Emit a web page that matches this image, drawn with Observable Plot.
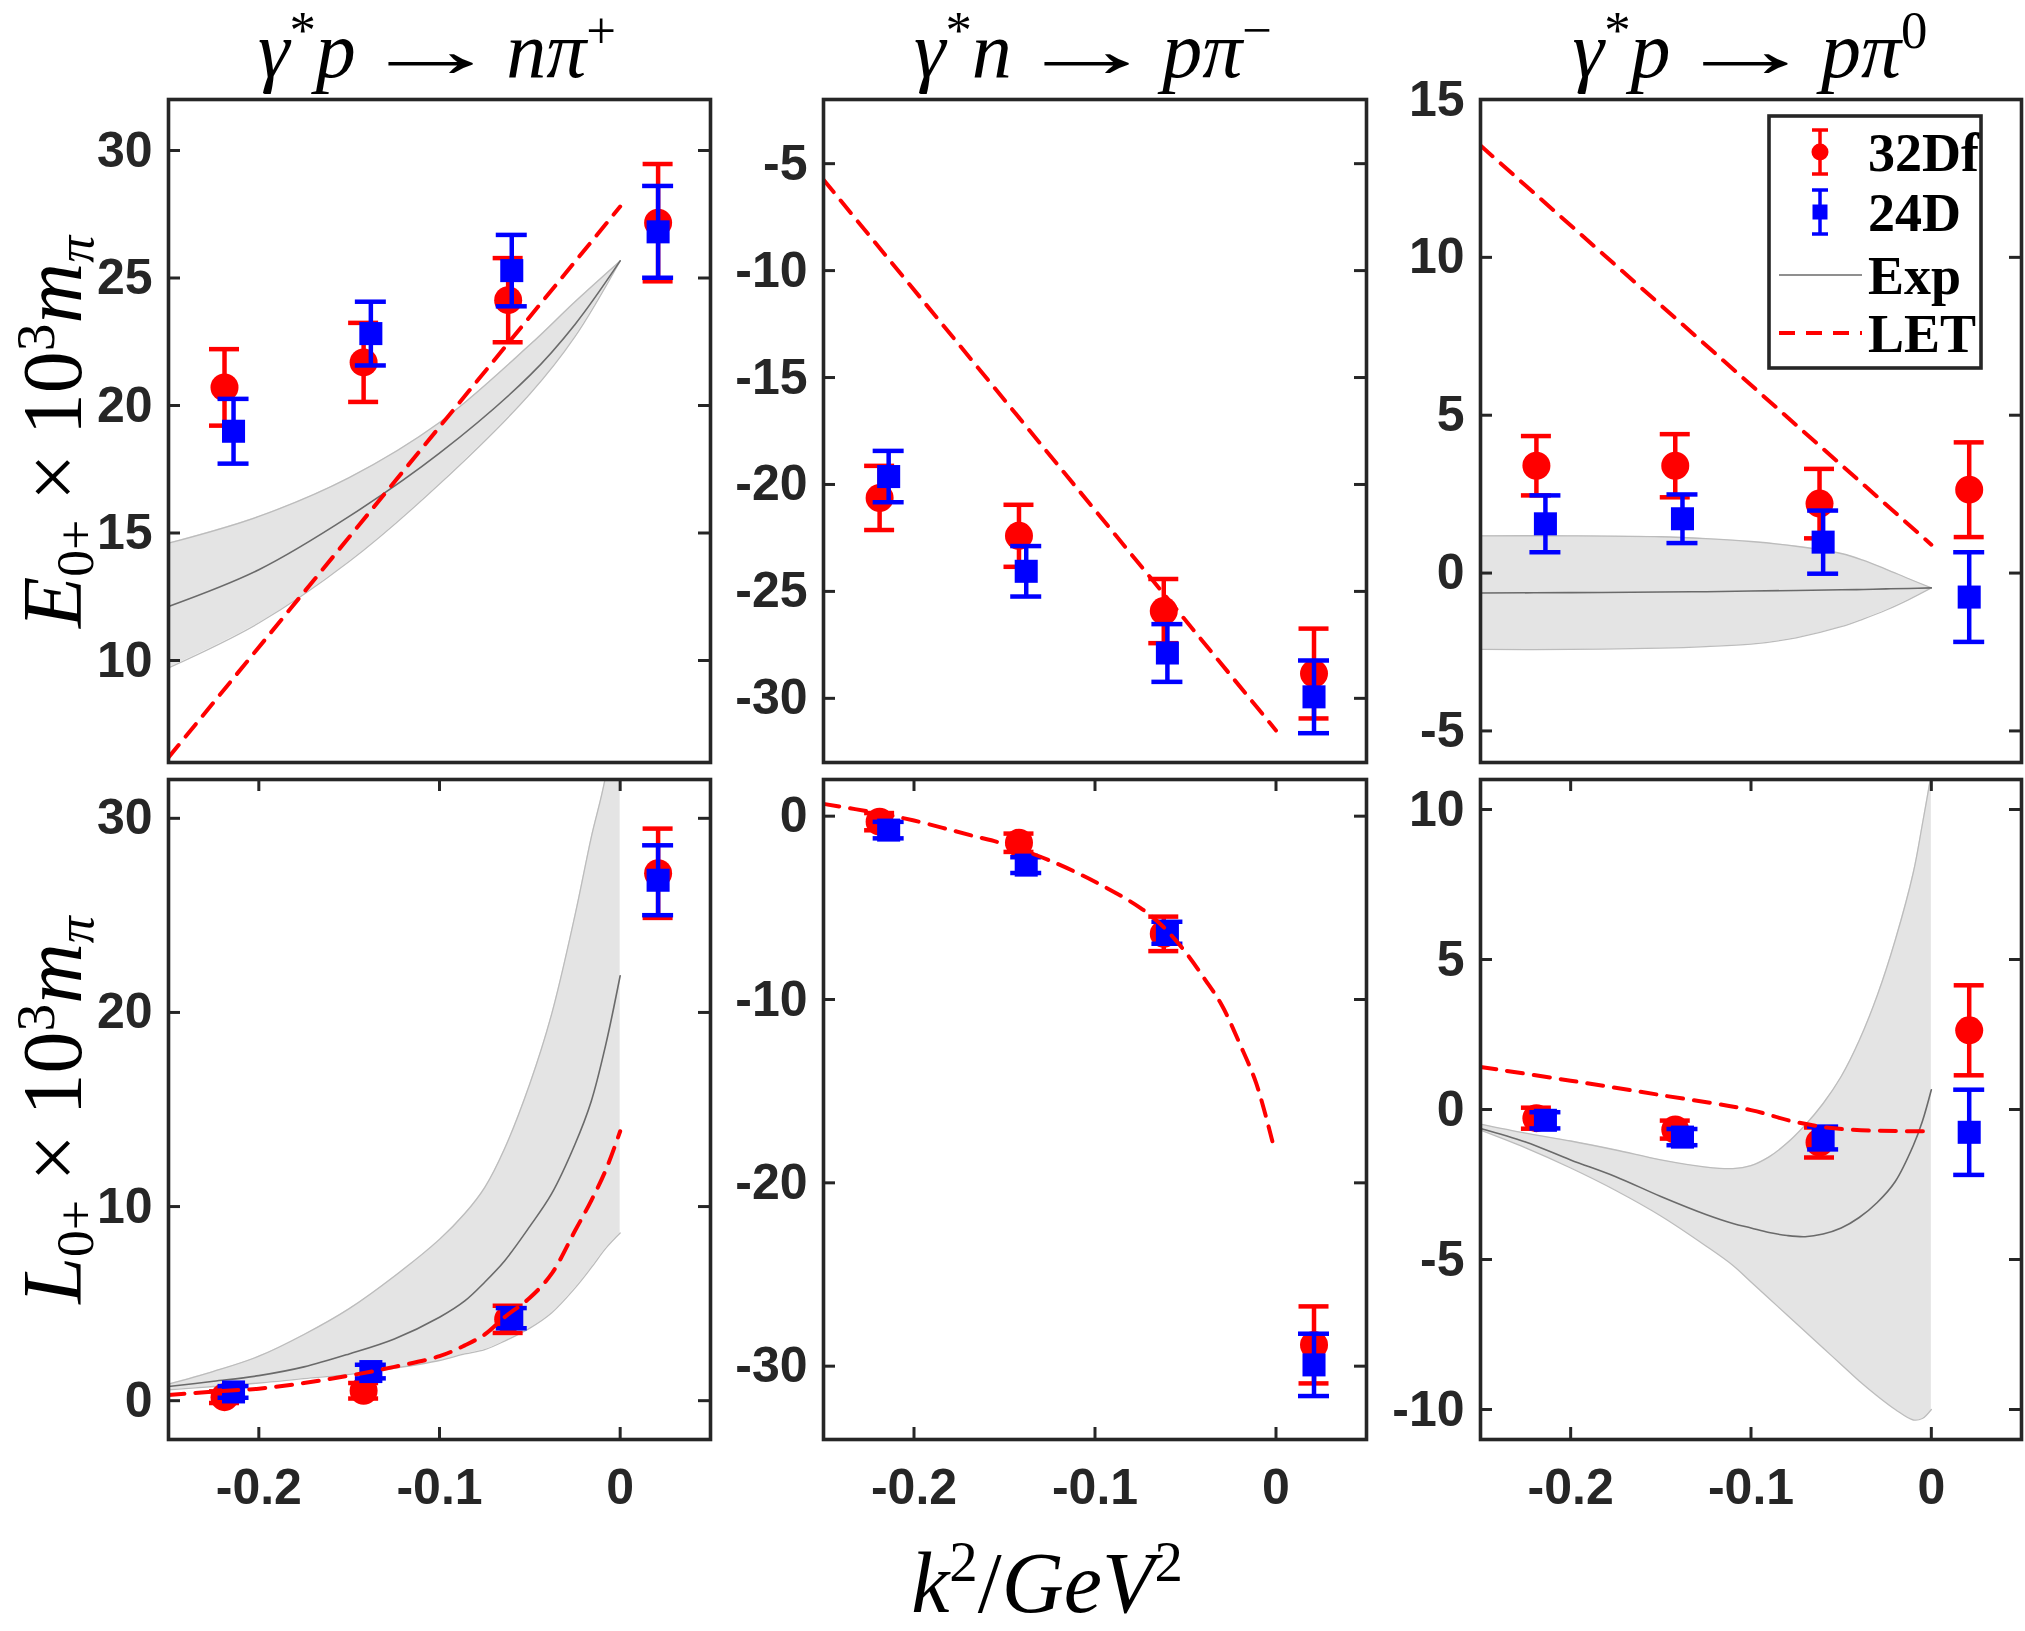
<!DOCTYPE html>
<html><head><meta charset="utf-8">
<script src="https://cdn.jsdelivr.net/npm/d3@7"></script>
<script src="https://cdn.jsdelivr.net/npm/@observablehq/plot@0.6"></script>
<style>
html,body{margin:0;padding:0;background:#fff;}
#fig{position:relative;width:2025px;height:1631px;background:#fff;overflow:hidden;}
.pp{position:absolute;}
.math{position:absolute;font-family:"Liberation Serif","Times New Roman",serif;color:#000;white-space:nowrap;line-height:1;font-style:normal;}
.math i{font-style:italic;}
.math sup{font-size:0.66em;vertical-align:0.55em;line-height:0;}
.math sub{font-size:0.64em;vertical-align:-0.22em;line-height:0;}
.math .op{margin:0 0.22em;}
.math .arr{display:inline-block;transform:scaleX(1.78);margin:0 0.44em;}
.ylab sup{vertical-align:0.48em;}
</style></head><body><div id="fig"></div>
<script>
// ---------------- data ----------------
const X_DOMAIN = [-0.25, 0.05];
const X_TICKS = [-0.2, -0.1, 0];
const K2_32Df = [-0.219, -0.142, -0.062, 0.021];
const K2_24D  = [-0.214, -0.138, -0.060, 0.021];

// E0+  gamma* p -> n pi+
const E_npip_ticks = [10, 15, 20, 25, 30];
const E_npip_domain = [6, 32];
const E_npip_32Df = [20.71, 21.69, 24.13, 27.17];
const E_npip_32Df_err = [1.50, 1.55, 1.65, 2.30];
const E_npip_24D = [18.99, 22.82, 25.29, 26.81];
const E_npip_24D_err = [1.27, 1.25, 1.40, 1.80];
const E_npip_exp_k2 = [-0.25, -0.2, -0.15, -0.1, -0.05, -0.025, 0];
const E_npip_exp_hi = [14.6, 15.65, 17.17, 19.33, 22.38, 24.07, 25.67];
const E_npip_exp_mid = [12.12, 13.56, 15.65, 18.13, 21.18, 23.18, 25.67];
const E_npip_exp_lo = [9.71, 11.47, 13.88, 16.92, 20.45, 22.7, 25.67];
const E_npip_let_k2 = [-0.25, 0];
const E_npip_let = [6.2, 27.8];

// E0+  gamma* n -> p pi-
const E_ppim_ticks = [-30, -25, -20, -15, -10, -5];
const E_ppim_domain = [-33, -2];
const E_ppim_32Df = [-20.63, -22.40, -25.92, -28.84];
const E_ppim_32Df_err = [1.50, 1.45, 1.50, 2.10];
const E_ppim_24D = [-19.63, -24.06, -27.88, -29.93];
const E_ppim_24D_err = [1.20, 1.18, 1.35, 1.70];
const E_ppim_let_k2 = [-0.25, 0];
const E_ppim_let = [-5.75, -31.5];

// E0+  gamma* p -> p pi0
const E_ppi0_ticks = [-5, 0, 5, 10, 15];
const E_ppi0_domain = [-6, 15];
const E_ppi0_32Df = [3.40, 3.40, 2.20, 2.64];
const E_ppi0_32Df_err = [0.94, 1.00, 1.10, 1.50];
const E_ppi0_24D = [1.56, 1.72, 0.98, -0.76];
const E_ppi0_24D_err = [0.90, 0.77, 1.00, 1.42];
const E_ppi0_exp_k2 = [-0.25, -0.2, -0.15, -0.125, -0.1, -0.075, -0.05, -0.0375, -0.025, -0.0125, 0];
const E_ppi0_exp_hi = [1.18, 1.18, 1.15, 1.09, 1.0, 0.85, 0.62, 0.4, 0.12, -0.18, -0.47];
const E_ppi0_exp_mid = [-0.63, -0.62, -0.6, -0.59, -0.57, -0.55, -0.53, -0.52, -0.5, -0.49, -0.47];
const E_ppi0_exp_lo = [-2.42, -2.42, -2.38, -2.33, -2.25, -2.05, -1.7, -1.45, -1.17, -0.84, -0.47];
const E_ppi0_let_k2 = [-0.25, 0];
const E_ppi0_let = [13.54, 0.9];

// L0+  gamma* p -> n pi+
const L_npip_ticks = [0, 10, 20, 30];
const L_npip_domain = [-2, 32];
const L_npip_32Df = [0.18, 0.51, 4.19, 27.17];
const L_npip_32Df_err = [0.30, 0.40, 0.70, 2.30];
const L_npip_24D = [0.45, 1.50, 4.25, 26.81];
const L_npip_24D_err = [0.30, 0.35, 0.52, 1.80];
const L_npip_exp_k2 = [-0.25, -0.225, -0.2, -0.175, -0.15, -0.125, -0.1, -0.086, -0.075, -0.064, -0.05, -0.038, -0.025, -0.016, -0.008, 0];
const L_npip_exp_hi = [0.85, 1.51, 2.29, 3.41, 4.74, 6.41, 8.31, 9.64, 10.98, 12.98, 16.33, 19.89, 25.01, 29.02, 32.2, 38];
const L_npip_exp_mid = [0.73, 1.0, 1.29, 1.74, 2.41, 3.18, 4.30, 5.14, 6.1, 7.2, 8.98, 10.65, 13.21, 15.43, 18.33, 21.89];
const L_npip_exp_lo = [0.56, 0.73, 0.91, 1.14, 1.36, 1.67, 2.07, 2.41, 2.63, 3.07, 3.74, 4.52, 5.8, 6.85, 7.85, 8.64];
const L_npip_let_k2 = [-0.25, -0.225, -0.2, -0.175, -0.15, -0.125, -0.1, -0.086, -0.075, -0.064, -0.05, -0.038, -0.025, -0.016, -0.008, 0];
const L_npip_let = [0.29, 0.47, 0.62, 0.91, 1.29, 1.74, 2.29, 2.85, 3.41, 4.30, 5.30, 6.53, 8.75, 10.31, 11.87, 13.88];

// L0+  gamma* n -> p pi-
const L_ppim_ticks = [-30, -20, -10, 0];
const L_ppim_domain = [-34, 2];
const L_ppim_32Df = [-0.30, -1.45, -6.42, -28.84];
const L_ppim_32Df_err = [0.47, 0.50, 0.94, 2.10];
const L_ppim_24D = [-0.76, -2.67, -6.36, -29.93];
const L_ppim_24D_err = [0.45, 0.43, 0.60, 1.70];
const L_ppim_let_k2 = [-0.25, -0.219, -0.2, -0.168, -0.15, -0.125, -0.1, -0.075, -0.062, -0.05, -0.039, -0.03, -0.02, -0.011, -0.002];
const L_ppim_let = [0.67, 0.15, -0.24, -1.06, -1.52, -2.42, -3.58, -5.0, -6.06, -7.42, -8.94, -10.3, -12.42, -14.55, -17.73];

// L0+  gamma* p -> p pi0
const L_ppi0_ticks = [-10, -5, 0, 5, 10];
const L_ppi0_domain = [-11, 11];
const L_ppi0_32Df = [-0.29, -0.67, -1.10, 2.64];
const L_ppi0_32Df_err = [0.35, 0.30, 0.50, 1.50];
const L_ppi0_24D = [-0.36, -0.92, -0.95, -0.76];
const L_ppi0_24D_err = [0.27, 0.27, 0.38, 1.42];
const L_ppi0_exp_k2 = [-0.25, -0.225, -0.2, -0.175, -0.15, -0.125, -0.11, -0.1, -0.09, -0.08, -0.07, -0.06, -0.05, -0.04, -0.03, -0.02, -0.01, -0.005, 0];
const L_ppi0_exp_hi = [-0.49, -0.79, -1.05, -1.35, -1.68, -1.92, -1.97, -1.87, -1.58, -1.12, -0.52, 0.2, 1.1, 2.3, 3.8, 5.65, 7.9, 9.5, 11.2];
const L_ppi0_exp_mid = [-0.63, -1.08, -1.68, -2.24, -2.9, -3.5, -3.8, -3.95, -4.1, -4.2, -4.24, -4.15, -3.95, -3.6, -3.1, -2.4, -1.2, -0.4, 0.66];
const L_ppi0_exp_lo = [-0.69, -1.28, -1.95, -2.7, -3.55, -4.55, -5.2, -5.75, -6.3, -6.85, -7.4, -7.95, -8.5, -9.05, -9.55, -10.0, -10.35, -10.3, -10.0];
const L_ppi0_let_k2 = [-0.25, -0.2, -0.15, -0.1, -0.078, -0.058, -0.039, -0.019, 0];
const L_ppi0_let = [1.42, 0.96, 0.48, -0.02, -0.38, -0.6, -0.69, -0.72, -0.72];

const LEGEND_LABELS = ["32Df", "24D", "Exp", "LET"];

// ---------------- helpers ----------------
const pts = (xs, ys, es) => xs.map((x, i) => ({x, y: ys[i], e: es[i]}));
const band = (xs, lo, mid, hi) => xs.map((x, i) => ({x, lo: lo[i], mid: mid[i], hi: hi[i]}));
const line = (xs, ys) => xs.map((x, i) => ({x, y: ys[i]}));

const RED = "#ff0000", BLUE = "#0000ff", AX = "#262626";
const TICK_FONT = "Liberation Sans, Arial, sans-serif";
const fig = document.getElementById("fig");

function drawPanel(s) {
  const ml = 130, mr = 14, mt = 14, mb = s.bottom ? 95 : 14;
  const w = s.w, h = s.h, tl = 12;
  const marks = [];
  if (s.band) {
    marks.push(Plot.areaY(s.band, {x: "x", y1: "lo", y2: "hi", fill: "#e4e4e4", curve: "catmull-rom", clip: true}));
    marks.push(Plot.line(s.band, {x: "x", y: "hi", stroke: "#bcbcbc", strokeWidth: 1.3, curve: "catmull-rom", clip: true}));
    marks.push(Plot.line(s.band, {x: "x", y: "lo", stroke: "#bcbcbc", strokeWidth: 1.3, curve: "catmull-rom", clip: true}));
    marks.push(Plot.line(s.band, {x: "x", y: "mid", stroke: "#6a6a6a", strokeWidth: 1.6, curve: "catmull-rom", clip: true}));
  }
  const bars = (data, color, half) => [
    Plot.ruleX(data, {x: "x", y1: d => d.y - d.e, y2: d => d.y + d.e, stroke: color, strokeWidth: 4.5}),
    Plot.ruleY(data, {x1: "x", x2: "x", y: d => d.y + d.e, insetLeft: -half, insetRight: -half, stroke: color, strokeWidth: 4.5}),
    Plot.ruleY(data, {x1: "x", x2: "x", y: d => d.y - d.e, insetLeft: -half, insetRight: -half, stroke: color, strokeWidth: 4.5})
  ];
  marks.push(...bars(s.red, RED, 15));
  marks.push(Plot.dot(s.red, {x: "x", y: "y", r: 14, fill: RED, stroke: "none"}));
  marks.push(...bars(s.blue, BLUE, 15.5));
  marks.push(Plot.dot(s.blue, {x: "x", y: "y", r: 13, symbol: "square", fill: BLUE, stroke: "none"}));
  marks.push(Plot.line(s.let, {x: "x", y: "y", stroke: RED, strokeWidth: 4, strokeDasharray: "16,11", curve: "catmull-rom", clip: true}));
  // inward tick marks
  marks.push(Plot.tickY(s.yTicks, {y: d => d, insetRight: w - tl, stroke: AX, strokeWidth: 3}));
  marks.push(Plot.tickY(s.yTicks, {y: d => d, insetLeft: w - tl, stroke: AX, strokeWidth: 3}));
  if (s.bottom) {
    marks.push(Plot.tickX(X_TICKS, {x: d => d, insetTop: h - tl, stroke: AX, strokeWidth: 3}));
    marks.push(Plot.tickX(X_TICKS, {x: d => d, insetBottom: h - tl, stroke: AX, strokeWidth: 3}));
    marks.push(Plot.axisX({ticks: X_TICKS, tickSize: 0, tickPadding: 29, label: null, tickFormat: d => String(d),
      fontSize: 50, fontWeight: "bold", fontFamily: TICK_FONT, fill: AX}));
  }
  marks.push(Plot.axisY({ticks: s.yTicks, tickSize: 0, tickPadding: 16, label: null, tickFormat: d => String(d),
    fontSize: 50, fontWeight: "bold", fontFamily: TICK_FONT, fill: AX}));
  marks.push(Plot.frame({stroke: AX, strokeWidth: 3.6}));

  const svg = Plot.plot({
    width: w + ml + mr, height: h + mt + mb,
    marginLeft: ml, marginRight: mr, marginTop: mt, marginBottom: mb,
    x: {domain: X_DOMAIN, ...(s.bottom ? {} : {axis: null})},
    y: {domain: s.yDomain},
    style: {background: "transparent", maxWidth: "none", overflow: "visible"},
    marks
  });
  const div = document.createElement("div");
  div.className = "pp";
  div.style.left = (s.left - ml) + "px";
  div.style.top = (s.top - mt) + "px";
  div.appendChild(svg);
  fig.appendChild(div);
}

const COLS = [{left: 168, w: 542}, {left: 823, w: 543}, {left: 1480, w: 541}];
const ROWS = [{top: 99, h: 663}, {top: 779, h: 660}];

const panels = [
  {c: 0, r: 0, yDomain: E_npip_domain, yTicks: E_npip_ticks,
   red: pts(K2_32Df, E_npip_32Df, E_npip_32Df_err), blue: pts(K2_24D, E_npip_24D, E_npip_24D_err),
   band: band(E_npip_exp_k2, E_npip_exp_lo, E_npip_exp_mid, E_npip_exp_hi), let: line(E_npip_let_k2, E_npip_let)},
  {c: 1, r: 0, yDomain: E_ppim_domain, yTicks: E_ppim_ticks,
   red: pts(K2_32Df, E_ppim_32Df, E_ppim_32Df_err), blue: pts(K2_24D, E_ppim_24D, E_ppim_24D_err),
   band: null, let: line(E_ppim_let_k2, E_ppim_let)},
  {c: 2, r: 0, yDomain: E_ppi0_domain, yTicks: E_ppi0_ticks,
   red: pts(K2_32Df, E_ppi0_32Df, E_ppi0_32Df_err), blue: pts(K2_24D, E_ppi0_24D, E_ppi0_24D_err),
   band: band(E_ppi0_exp_k2, E_ppi0_exp_lo, E_ppi0_exp_mid, E_ppi0_exp_hi), let: line(E_ppi0_let_k2, E_ppi0_let)},
  {c: 0, r: 1, yDomain: L_npip_domain, yTicks: L_npip_ticks,
   red: pts(K2_32Df, L_npip_32Df, L_npip_32Df_err), blue: pts(K2_24D, L_npip_24D, L_npip_24D_err),
   band: band(L_npip_exp_k2, L_npip_exp_lo, L_npip_exp_mid, L_npip_exp_hi), let: line(L_npip_let_k2, L_npip_let)},
  {c: 1, r: 1, yDomain: L_ppim_domain, yTicks: L_ppim_ticks,
   red: pts(K2_32Df, L_ppim_32Df, L_ppim_32Df_err), blue: pts(K2_24D, L_ppim_24D, L_ppim_24D_err),
   band: null, let: line(L_ppim_let_k2, L_ppim_let)},
  {c: 2, r: 1, yDomain: L_ppi0_domain, yTicks: L_ppi0_ticks,
   red: pts(K2_32Df, L_ppi0_32Df, L_ppi0_32Df_err), blue: pts(K2_24D, L_ppi0_24D, L_ppi0_24D_err),
   band: band(L_ppi0_exp_k2, L_ppi0_exp_lo, L_ppi0_exp_mid, L_ppi0_exp_hi), let: line(L_ppi0_let_k2, L_ppi0_let)}
];
for (const p of panels) {
  drawPanel({...p, left: COLS[p.c].left, w: COLS[p.c].w, top: ROWS[p.r].top, h: ROWS[p.r].h, bottom: p.r === 1});
}

// ---------------- text ----------------
function addMath(html, cx, cy, size, rotate) {
  const d = document.createElement("div");
  d.className = "math" + (rotate ? " ylab" : "");
  d.innerHTML = html;
  d.style.fontSize = size + "px";
  d.style.left = cx + "px";
  d.style.top = cy + "px";
  d.style.transform = "translate(-50%,-50%)" + (rotate ? " rotate(-90deg)" : "");
  fig.appendChild(d);
}
addMath('<i>γ</i><sup>*</sup><i>p</i><span class="arr">→</span><i>n</i><i>π</i><sup>+</sup>', 437, 50, 80);
addMath('<i>γ</i><sup>*</sup><i>n</i><span class="arr">→</span><i>p</i><i>π</i><sup>−</sup>', 1093, 50, 80);
addMath('<i>γ</i><sup>*</sup><i>p</i><span class="arr">→</span><i>p</i><i>π</i><sup>0</sup>', 1750, 50, 80);
addMath('<i>E</i><sub>0+</sub><span class="op">×</span>10<sup>3</sup><i>m</i><sub><i>π</i></sub>', 53, 432, 84, true);
addMath('<i>L</i><sub>0+</sub><span class="op">×</span>10<sup>3</sup><i>m</i><sub><i>π</i></sub>', 53, 1110, 84, true);
addMath('<i>k</i><sup>2</sup>/<i>GeV</i><sup>2</sup>', 1047, 1583, 86);

// ---------------- legend ----------------
(function legend() {
  const W = 212, H = 252, rows = [36, 96, 159, 217], sx = 51;
  const svg = d3.create("svg").attr("width", W + 8).attr("height", H + 8)
    .style("position", "absolute").style("left", (1769 - 4) + "px").style("top", (116 - 4) + "px");
  const g = svg.append("g").attr("transform", "translate(4,4)");
  g.append("rect").attr("width", W).attr("height", H).attr("fill", "#fff").attr("stroke", AX).attr("stroke-width", 3.6);
  const bar = (r, color) => {
    g.append("line").attr("x1", sx).attr("x2", sx).attr("y1", r - 22).attr("y2", r + 22).attr("stroke", color).attr("stroke-width", 3.5);
    [r - 22, r + 22].forEach(y => g.append("line").attr("x1", sx - 8).attr("x2", sx + 8).attr("y1", y).attr("y2", y).attr("stroke", color).attr("stroke-width", 3.5));
  };
  bar(rows[0], RED);
  g.append("circle").attr("cx", sx).attr("cy", rows[0]).attr("r", 8.5).attr("fill", RED);
  bar(rows[1], BLUE);
  g.append("rect").attr("x", sx - 7.5).attr("y", rows[1] - 7.5).attr("width", 15).attr("height", 15).attr("fill", BLUE);
  g.append("line").attr("x1", 10).attr("x2", 93).attr("y1", rows[2]).attr("y2", rows[2]).attr("stroke", "#6a6a6a").attr("stroke-width", 1.6);
  g.append("line").attr("x1", 10).attr("x2", 93).attr("y1", rows[3]).attr("y2", rows[3]).attr("stroke", RED).attr("stroke-width", 4).attr("stroke-dasharray", "16,11");
  LEGEND_LABELS.forEach((t, i) => g.append("text").attr("x", 99).attr("y", rows[i]).attr("dy", "0.35em")
    .attr("font-family", "Liberation Serif, Times New Roman, serif").attr("font-weight", "bold").attr("font-size", 54)
    .attr("fill", "#000").text(t));
  fig.appendChild(svg.node());
})();
</script>
</body></html>
